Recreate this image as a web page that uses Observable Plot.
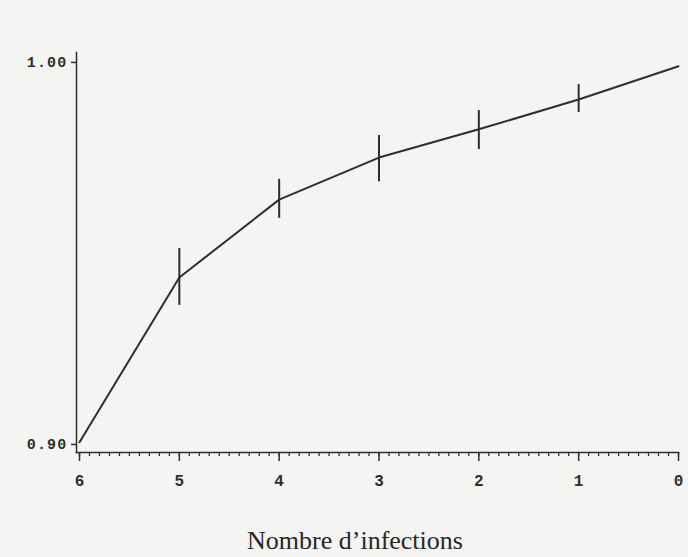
<!DOCTYPE html>
<html>
<head>
<meta charset="utf-8">
<script src="https://cdn.jsdelivr.net/npm/d3@7"></script>
<script src="https://cdn.jsdelivr.net/npm/@observablehq/plot@0.6"></script>
<style>
  html, body { margin: 0; padding: 0; background: #f4f4f3; }
  #wrap { position: relative; width: 688px; height: 557px; }
  #title { position: absolute; left: 11px; width: 688px; top: 526px; text-align: center;
           font-family: "Liberation Serif", "DejaVu Serif", serif; font-size: 26px; color: #262626; }
  svg g[aria-label="y-axis tick label"] text { letter-spacing: 1.2px; }
</style>
</head>
<body>
<div id="wrap"><div id="chart"></div><div id="title">Nombre d’infections</div></div>
<script>
const infections = [6, 5, 4, 3, 2, 1, 0];
const estimate   = [0.9006, 0.9437, 0.9641, 0.9751, 0.9825, 0.9903, 0.9990];
const lower      = [null, 0.9364, 0.9592, 0.9688, 0.9772, 0.9869, null];
const upper      = [null, 0.9513, 0.9694, 0.9809, 0.9874, 0.9942, null];
const xTicks = [6, 5, 4, 3, 2, 1, 0];
const yTicks = [0.90, 1.00];

const rows = infections.map((x, i) => ({x, y: estimate[i], lo: lower[i], hi: upper[i]}));
const bars = rows.filter(d => d.lo != null);
const minorTicks = d3.range(0, 61).map(i => i / 10);

const ink = "#2e2e2e";
const tickFont = {fontFamily: "Liberation Mono, DejaVu Sans Mono, monospace", fontSize: 15, fontWeight: "bold"};

const plot = Plot.plot({
  width: 688,
  height: 500,
  marginLeft: 76,
  marginRight: 10,
  marginTop: 52,
  marginBottom: 48,
  x: {domain: [6, 0], insetLeft: 3, insetRight: 0, label: null},
  y: {domain: [0.8979, 1.0026], label: null},
  style: {background: "transparent", color: ink},
  marks: [
    Plot.frame({anchor: "left", stroke: ink, strokeWidth: 1.5}),
    Plot.frame({anchor: "bottom", stroke: ink, strokeWidth: 1.5}),
    Plot.axisX({ticks: minorTicks, tickSize: 4, tickFormat: () => "", stroke: ink, strokeWidth: 1.3, label: null}),
    Plot.axisX({ticks: xTicks, tickSize: 9, tickPadding: 13, tickFormat: d3.format("d"), stroke: ink, strokeWidth: 1.5, fill: ink, ...tickFont, fontSize: 16, label: null}),
    Plot.axisY({ticks: yTicks, tickSize: 5, tickPadding: 4, tickFormat: d3.format(".2f"), stroke: ink, strokeWidth: 1.5, fill: ink, ...tickFont, label: null}),
    Plot.ruleX(bars, {x: "x", y1: "lo", y2: "hi", stroke: ink, strokeWidth: 2}),
    Plot.line(rows, {x: "x", y: "y", stroke: ink, strokeWidth: 2})
  ]
});
document.getElementById("chart").appendChild(plot);
</script>
</body>
</html>
